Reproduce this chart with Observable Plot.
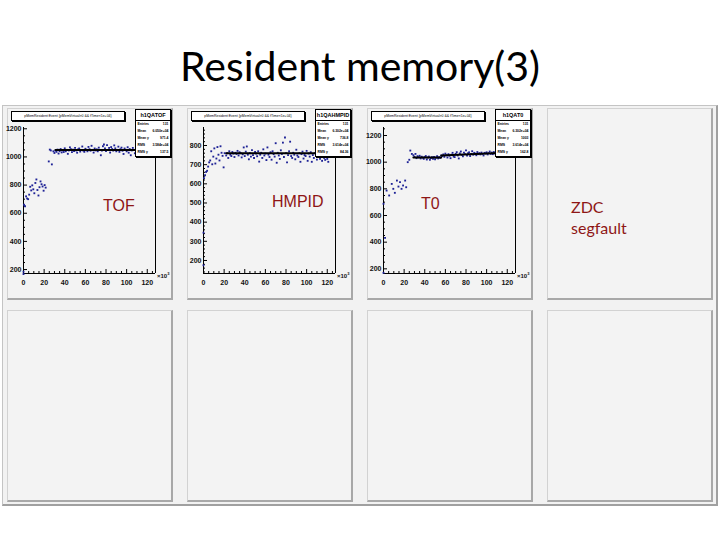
<!DOCTYPE html>
<html><head><meta charset="utf-8">
<script src="https://cdn.jsdelivr.net/npm/d3@7"></script>
<script src="https://cdn.jsdelivr.net/npm/@observablehq/plot@0.6"></script>
<style>
body{margin:0;background:#fff;width:720px;height:540px;overflow:hidden;position:relative;font-family:"Liberation Sans",Arial,sans-serif}
#title{position:absolute;left:0;top:46px;width:720px;text-align:center;font-family:Lato,sans-serif;font-size:41px;line-height:40px;color:#000}
#board{position:absolute;left:2px;top:105px;width:713px;height:398px;background:#f2f2f2;border:1px solid #c4c4c4;border-right:2px solid #a0a0a0;border-bottom:2px solid #a0a0a0}
.panel{position:absolute;width:163px;height:189px;background:#f3f3f3;border-left:1px solid #d2d2d2;border-top:1px solid #d2d2d2;border-right:2px solid #a8a8a8;border-bottom:2px solid #a8a8a8}
.plot{position:absolute;width:165px;height:191px}
.plot svg{overflow:visible}
.tbox{position:absolute;left:4px;top:3px;width:112px;height:8px;background:#fff;border:1px solid #000;box-shadow:1px 1px 0 #000;font-size:3.5px;line-height:8px;text-align:center;white-space:nowrap;color:#000}
.sbox{position:absolute;left:128px;top:1px;width:34px;height:46px;background:#fff;border:1px solid #000;box-shadow:1px 1px 0 #000;color:#000}
.sbox .h{font-size:5.5px;font-weight:bold;text-align:center;height:10px;line-height:10px;border-bottom:1px solid #000}
.sbox .r{font-size:3.4px;height:7px;line-height:7px;padding:0 1.5px;display:flex;justify-content:space-between;font-weight:bold}
.x10{position:absolute;left:150px;top:163px;font-size:6px;font-weight:bold;color:#111}
.x10 sup{font-size:4px}
.lab{position:absolute;color:#8e1616;font-size:16px;line-height:16px;white-space:nowrap}
.lab.a{font-family:"Liberation Sans",Arial,sans-serif}
.lab.c{font-family:Lato,sans-serif;line-height:21px}
</style></head>
<body>
<div id="title">Resident memory(3)</div>
<div id="board"></div>
<div id="panels"></div>
<script>
// ---------- data ----------
const panelNames = ["TOF", "HMPID", "T0", "ZDC"];
const xMajor = [0, 20, 40, 60, 80, 100, 120];
const xMinor = [5,10,15,25,30,35,45,50,55,65,70,75,85,90,95,105,110,115,125];
const xDomain = [0, 128];

// TOF
const tofX = [0,0,0.5,1.5,2.5,3.5,4.5,5.5,6.5,7.5,8.5,9.5,10.5,11.5,12.5,13.5,14.5,15.5,16.5,17.5,18.5,19.5,20.5,21.5,24.5,25.5,26.5,27.5,
  29,30,31,32,33,34,35,36,37,38,39,40,41,42,43,44,45,46,47,48,49,50,51,52,53,54,55,56,57,58,59,60,61,62,63,64,65,66,67,68,69,70,71,72,73,74,
  75,76,77,78,79,80,81,82,83,84,85,86,87,88,89,90,91,92,93,94,95,96,97,98,99,100,101,102,103,104,105,106,107,108,109,110,111,112,113,114,115,116,117,118];
const tofY = [185,168,660,650,720,705,700,732,788,762,798,770,742,815,840,765,726,785,826,806,790,760,800,782,968,1052,1046,947,
  1040,1028,1045,1036,1052,1024,1041,1056,1032,1047,
  1035,1061,1040,1050,1022,1046,1068,1055,1034,1051,
  1042,1064,1046,1030,1054,1060,1038,1049,1074,1045,
  1036,1058,1051,1040,1071,1055,1044,1079,1050,1031,
  1060,1046,1054,1040,1066,1049,1012,1045,1076,1088,
  1060,1041,1084,1050,1064,1031,1070,1056,1045,1082,
  1061,1040,1050,1073,1036,1055,1066,1044,1021,1060,
  1051,1040,1069,1030,1056,1012,1046,1064,1050,1026,
  1060,1041,1055,1046,1062,1038,1052,1044,1058,1040];
const tofFitX = [31, 128];
const tofFitY = [1050, 1050];
const tofFitSeg = [0, 0];
const tofYDomain = [172, 1209];
const tofYMajor = [200, 400, 600, 800, 1000, 1200];
const tofYMinor = [250,300,350,450,500,550,650,700,750,850,900,950,1050,1100,1150];
const tofStats = [["Entries","131"],["Mean","6.050e+04"],["Mean y","971.4"],["RMS","3.584e+04"],["RMS y","137.5"]];

// HMPID
const hmpX = [0,0,0.5,1.5,2.5,3.5,4.5,5.5,6.5,7.5,8.5,9.5,10.5,11.5,12.5,13.5,14.5,15.5,16.5,17.5,18.5,19.5,20.5,
  22,23,24,25,26,27,28,29,30,31,32,33,34,35,36,37,38,39,40,41,42,43,44,45,46,47,48,49,50,51,52,53,54,55,56,57,58,59,60,61,
  62,63,64,65,66,67,68,69,70,71,72,73,74,75,76,77,78,79,80,81,82,83,84,85,86,87,88,89,90,91,92,93,94,95,96,97,98,99,100,101,
  102,103,104,105,106,107,108,109,110,111,112,113,114,115,116,117,118,119,120,121];
const hmpY = [175,345,630,645,662,668,690,712,722,770,702,742,785,706,732,792,752,722,796,762,746,686,760,
  748,760,735,770,752,745,766,758,740,762,
  756,772,748,765,760,738,754,790,745,768,
  795,752,728,760,742,776,750,735,766,758,
  744,770,716,752,762,735,780,748,758,724,
  790,752,740,765,726,770,755,742,812,710,
  762,748,730,775,756,815,740,842,760,712,
  750,770,820,745,735,762,752,728,778,748,
  740,760,715,755,768,732,750,745,772,720,
  758,742,765,715,750,735,760,748,726,755,
  740,730,752,720,745,735,725,742,730,715];
const hmpFitX = [22, 128];
const hmpFitY = [760, 760];
const hmpFitSeg = [0, 0];
const hmpYDomain = [132, 894];
const hmpYMajor = [200, 300, 400, 500, 600, 700, 800];
const hmpYMinor = [140,160,180,220,240,260,280,320,340,360,380,420,440,460,480,520,540,560,580,620,640,660,680,720,740,760,780,820,840,860,880];
const hmpStats = [["Entries","131"],["Mean","6.302e+04"],["Mean y","736.8"],["RMS","3.614e+04"],["RMS y","84.36"]];

// T0
const t0X = [0,0,1.5,3,5.5,8,9.5,11,13,14.5,16,17.5,19,21,22,23.5,25,26,27.5,
  29,30,31,32,33,34,35,36,37,38,39,40,41,42,43,44,45,46,47,48,49,50,51,52,53,54,55,56,57,58,
  59,60,61,62,63,64,65,66,67,68,69,70,71,72,73,74,75,76,77,78,79,80,81,82,83,84,85,86,87,88,
  89,90,91,92,93,94,95,96,97,98,99,100,101,102,103,104,105,106,107,108,109,110,111,112,113,114,115,116,117,118];
const t0Y = [170,688,432,787,750,837,800,770,862,817,850,800,825,862,812,1000,1018,1087,1062,
  1052,1040,1062,1030,1045,1036,1048,1028,1041,1034,
  1025,1038,1046,1020,1035,1042,1018,1030,1037,1026,
  1040,1022,1034,1045,1028,1038,1032,1050,1046,1058,
  1040,1064,1052,1035,1060,1048,1030,1056,1070,1042,
  1038,1062,1075,1050,1028,1066,1080,1055,1044,1072,
  1060,1088,1050,1068,1074,1046,1062,1082,1056,1070,
  1064,1052,1076,1060,1068,1058,1072,1062,1050,1070,
  1066,1074,1058,1068,1080,1062,1072,1060,1076,1066,
  1070,1062,1080,1068,1074,1064,1078,1070,1066,1072];
const t0FitX = [29, 56, 56, 128];
const t0FitY = [1035, 1035, 1050, 1074];
const t0FitSeg = [0, 0, 1, 1];
const t0YDomain = [165, 1260];
const t0YMajor = [200, 400, 600, 800, 1000, 1200];
const t0YMinor = [250,300,350,450,500,550,650,700,750,850,900,950,1050,1100,1150,1250];
const t0Stats = [["Entries","131"],["Mean","6.302e+04"],["Mean y","1003"],["RMS","3.614e+04"],["RMS y","162.8"]];

const plotTitles = [
  "pMemResident:Event {pMemVirtual>0 && fTime<1e+04}",
  "pMemResident:Event {pMemVirtual>0 && fTime<1e+04}",
  "pMemResident:Event {pMemVirtual>0 && fTime<1e+04}"
];
const histNames = ["h1QATOF", "h1QAHMPID", "h1QAT0"];

// ---------- layout ----------
const colLeft = [7, 187, 367, 547];
const rowTop = [108, 310];
const root = document.getElementById("panels");
for (const t of rowTop) for (const l of colLeft) {
  const p = document.createElement("div");
  p.className = "panel"; p.style.left = l + "px"; p.style.top = t + "px";
  root.appendChild(p);
}

const fmt = d => String(d);
const font = {fontSize: 7, fontWeight: "bold", fontFamily: "Liberation Sans, Arial, sans-serif", fill: "#111"};

function rootPlot(xs, ys, fitX, fitY, fitSeg, yDomain, yMajor, yMinor) {
  const pts = xs.map((x, i) => ({x, y: ys[i]}));
  const fit = fitX.map((x, i) => ({x, y: fitY[i], s: fitSeg[i]}));
  return Plot.plot({
    width: 165, height: 191,
    marginLeft: 16, marginRight: 17, marginTop: 19, marginBottom: 26,
    x: {domain: xDomain, axis: null},
    y: {domain: yDomain, axis: null},
    style: {background: "transparent", overflow: "visible"},
    marks: [
      Plot.ruleX([xDomain[0]], {stroke: "#000", strokeWidth: 1}),
      Plot.ruleX([xDomain[1]], {stroke: "#000", strokeWidth: 1}),
      Plot.ruleY([yDomain[0]], {stroke: "#000", strokeWidth: 1}),
      Plot.axisY(yMinor, {tickSize: -2, tickFormat: () => "", label: null, stroke: "#000"}),
      Plot.axisY(yMajor, {tickSize: -4, tickPadding: 6, tickFormat: fmt, label: null, stroke: "#000", ...font}),
      Plot.axisX(xMinor, {tickSize: -2, tickFormat: () => "", label: null, stroke: "#000"}),
      Plot.axisX(xMajor, {tickSize: -4, tickPadding: 11, tickFormat: fmt, label: null, stroke: "#000", ...font}),
      Plot.dot(pts, {x: "x", y: "y", r: 1.05, symbol: "square", fill: "#1e2296", stroke: null}),
      Plot.line(fit, {x: "x", y: "y", z: "s", stroke: "#000", strokeWidth: 2})
    ]
  });
}

const plots = [
  rootPlot(tofX, tofY, tofFitX, tofFitY, tofFitSeg, tofYDomain, tofYMajor, tofYMinor),
  rootPlot(hmpX, hmpY, hmpFitX, hmpFitY, hmpFitSeg, hmpYDomain, hmpYMajor, hmpYMinor),
  rootPlot(t0X, t0Y, t0FitX, t0FitY, t0FitSeg, t0YDomain, t0YMajor, t0YMinor)
];
const stats = [tofStats, hmpStats, t0Stats];

plots.forEach((svg, i) => {
  const w = document.createElement("div");
  w.className = "plot"; w.style.left = colLeft[i] + "px"; w.style.top = rowTop[0] + "px";
  w.appendChild(svg);
  const tb = document.createElement("div"); tb.className = "tbox"; tb.textContent = plotTitles[i]; w.appendChild(tb);
  const sb = document.createElement("div"); sb.className = "sbox";
  const h = document.createElement("div"); h.className = "h"; h.textContent = histNames[i]; sb.appendChild(h);
  for (const [k, v] of stats[i]) {
    const r = document.createElement("div"); r.className = "r";
    const a = document.createElement("span"); a.textContent = k;
    const b = document.createElement("span"); b.textContent = v;
    r.appendChild(a); r.appendChild(b); sb.appendChild(r);
  }
  w.appendChild(sb);
  const x10 = document.createElement("div"); x10.className = "x10"; x10.innerHTML = "\u00d710<sup>3</sup>"; w.appendChild(x10);
  document.body.appendChild(w);
});

// panel labels
const labels = [
  {t: panelNames[0], left: 103, top: 198, cls: "a"},
  {t: panelNames[1], left: 272, top: 194, cls: "a"},
  {t: panelNames[2], left: 421, top: 196, cls: "a"},
  {t: panelNames[3] + "<br>segfault", left: 571, top: 196, cls: "c"}
];
for (const L of labels) {
  const d = document.createElement("div");
  d.className = "lab " + L.cls; d.style.left = L.left + "px"; d.style.top = L.top + "px";
  d.innerHTML = L.t;
  document.body.appendChild(d);
}
</script>
</body></html>
